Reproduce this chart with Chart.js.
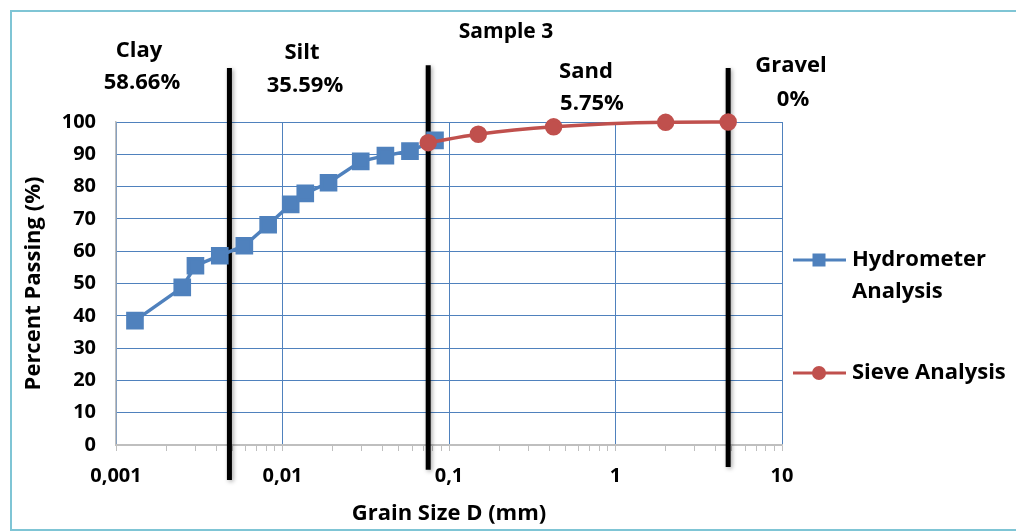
<!DOCTYPE html>
<html>
<head>
<meta charset="utf-8">
<script src="https://cdn.jsdelivr.net/npm/chart.js@4.4.1/dist/chart.umd.min.js"></script>
<style>
  html, body { margin: 0; padding: 0; background: #ffffff; }
  #wrap { width: 1016px; height: 532px; position: relative; }
  canvas { display: block; }
</style>
</head>
<body>
<div id="wrap"><canvas id="c" width="1016" height="532"></canvas></div>
<script>
// ---- data ----
const chartTitle = 'Sample 3';
const hydroSizes = [0.0013, 0.0025, 0.0030, 0.0042, 0.0059, 0.0082, 0.0112, 0.0137, 0.0189, 0.0295, 0.0415, 0.0583, 0.0824];
const hydroPassing = [38.5, 48.8, 55.5, 58.6, 61.7, 68.2, 74.5, 77.9, 81.2, 87.8, 89.6, 91.0, 94.3];
const sieveSizes = [0.075, 0.15, 0.425, 2.0, 4.75];
const sievePassing = [93.6, 96.2, 98.5, 99.9, 100];
const boundarySizes = [0.0048, 0.075, 4.75];
const zoneNames = ['Clay', 'Silt', 'Sand', 'Gravel'];
const zonePercents = ['58.66%', '35.59%', '5.75%', '0%'];
const seriesNames = [['Hydrometer', 'Analysis'], ['Sieve Analysis']];
const xTickValues = [0.001, 0.01, 0.1, 1, 10];
const xTickLabels = ['0,001', '0,01', '0,1', '1', '10'];
const yTicks = [0, 10, 20, 30, 40, 50, 60, 70, 80, 90, 100];
const xAxisTitle = 'Grain Size D (mm)';
const yAxisTitle = 'Percent Passing (%)';

// ---- styles ----
const FONT = '"Open Sans", Lato, sans-serif';
const BLUE = '#4f81bd';
const RED = '#c0504d';
const GRID = '#4f81bd';
const AXIS = '#bfbfbf';

const pts = (xs, ys) => xs.map((x, i) => ({ x: x, y: ys[i] }));
const isDecade = v => Math.abs(Math.log10(v) - Math.round(Math.log10(v))) < 1e-9;

// boundary line vertical spans (style: how far above/below the plot they reach)
const lineSpans = [[-10.8, 116.7], [-7.7, 117.6], [-6.8, 116.7]];
const boundaryDatasets = boundarySizes.map((s, i) => ({
  label: 'boundary' + i,
  data: [{ x: s, y: lineSpans[i][0] }, { x: s, y: lineSpans[i][1] }],
  borderColor: '#000000',
  borderWidth: 5,
  pointRadius: 0,
  borderCapStyle: 'butt',
  clip: false,
  order: 10,
  isBoundary: true
}));

const decorPlugin = {
  id: 'decor',
  beforeDraw(chart) {
    const ctx = chart.ctx;
    ctx.save();
    ctx.fillStyle = '#ffffff';
    ctx.fillRect(0, 0, chart.width, chart.height);
    ctx.strokeStyle = '#7fc5d5';
    ctx.lineWidth = 2;
    ctx.strokeRect(11, 11, 1030, 519);
    ctx.restore();
  },
  beforeDatasetDraw(chart, args) {
    const d = chart.data.datasets[args.index];
    if (d.isBoundary) {
      const ctx = chart.ctx;
      ctx.save();
      ctx.shadowColor = 'rgba(0,0,0,0.35)';
      ctx.shadowBlur = 4;
      ctx.shadowOffsetX = 1.5;
      ctx.shadowOffsetY = 1.5;
    }
  },
  afterDatasetDraw(chart, args) {
    const d = chart.data.datasets[args.index];
    if (d.isBoundary) chart.ctx.restore();
  },
  afterDraw(chart) {
    const ctx = chart.ctx;
    ctx.save();
    ctx.fillStyle = '#000000';
    ctx.textAlign = 'center';
    ctx.textBaseline = 'middle';
    ctx.font = 'bold 21px ' + FONT;
    ctx.fillText(chartTitle, 506, 32);
    ctx.font = 'bold 22px ' + FONT;
    const zonePos = [[139, 51, 142, 83], [302, 53, 305, 86], [586, 72, 592, 104], [791, 66, 793, 100]];
    zoneNames.forEach((n, i) => {
      const p = zonePos[i];
      ctx.fillText(n, p[0], p[1]);
      ctx.fillText(zonePercents[i], p[2], p[3]);
    });
    // legend
    const legendY = [260, 373];
    const ds = chart.data.datasets.filter(d => !d.isBoundary);
    ds.forEach((d, i) => {
      const y = legendY[i];
      ctx.strokeStyle = d.borderColor;
      ctx.lineWidth = 3;
      ctx.beginPath();
      ctx.moveTo(793, y);
      ctx.lineTo(846, y);
      ctx.stroke();
      ctx.fillStyle = d.pointBackgroundColor;
      if (d.pointStyle === 'rect') {
        ctx.fillRect(819 - 6.5, y - 6.5, 13, 13);
      } else {
        ctx.beginPath();
        ctx.arc(819, y, 7, 0, Math.PI * 2);
        ctx.fill();
      }
      ctx.fillStyle = '#000000';
      ctx.textAlign = 'left';
      ctx.font = 'bold 22px ' + FONT;
      seriesNames[i].forEach((t, k) => ctx.fillText(t, 852, y + k * 32));
    });
    ctx.restore();
  }
};

new Chart(document.getElementById('c'), {
  type: 'line',
  data: {
    datasets: [
      {
        label: seriesNames[0].join(' '),
        data: pts(hydroSizes, hydroPassing),
        borderColor: BLUE,
        backgroundColor: BLUE,
        pointBackgroundColor: BLUE,
        pointBorderColor: BLUE,
        pointStyle: 'rect',
        pointRadius: 10,
        borderWidth: 3.5,
        tension: 0,
        clip: false,
        order: 1
      },
      {
        label: seriesNames[1].join(' '),
        data: pts(sieveSizes, sievePassing),
        borderColor: RED,
        backgroundColor: RED,
        pointBackgroundColor: RED,
        pointBorderColor: RED,
        pointStyle: 'circle',
        pointRadius: 7,
        borderWidth: 3.5,
        cubicInterpolationMode: 'monotone',
        clip: false,
        order: 0
      },
      ...boundaryDatasets
    ]
  },
  options: {
    responsive: false,
    devicePixelRatio: 1,
    animation: false,
    layout: { padding: { top: 122, right: 234, left: 0, bottom: 0 } },
    plugins: {
      legend: { display: false },
      title: { display: false },
      tooltip: { enabled: false }
    },
    scales: {
      x: {
        type: 'logarithmic',
        min: xTickValues[0],
        max: xTickValues[xTickValues.length - 1],
        afterFit: s => { s.height = 87; },
        afterBuildTicks: s => {
          const t = [];
          for (let d = 0; d < xTickValues.length - 1; d++) {
            for (let k = 1; k <= 9; k++) t.push({ value: xTickValues[d] * k, major: k === 1 });
          }
          t.push({ value: xTickValues[xTickValues.length - 1], major: true });
          s.ticks = t;
        },
        grid: {
          color: c => (c.tick && isDecade(c.tick.value)) ? GRID : 'rgba(0,0,0,0)',
          tickColor: AXIS,
          tickLength: 6,
          lineWidth: 1
        },
        border: { color: AXIS, width: 1.5 },
        ticks: {
          autoSkip: false,
          maxRotation: 0,
          padding: 13,
          color: '#000000',
          font: { family: FONT, size: 20, weight: 'bold' },
          callback: v => {
            const i = xTickValues.findIndex(t => Math.abs(t - v) / t < 1e-9);
            return i >= 0 ? xTickLabels[i] : '';
          }
        },
        title: {
          display: true,
          text: xAxisTitle,
          color: '#000000',
          font: { family: FONT, size: 22, weight: 'bold' },
          padding: { top: 0, bottom: 5 }
        }
      },
      y: {
        type: 'linear',
        min: yTicks[0],
        max: yTicks[yTicks.length - 1],
        afterFit: s => { s.width = 116; },
        afterBuildTicks: s => { s.ticks = yTicks.map(v => ({ value: v })); },
        grid: {
          color: c => (c.tick && c.tick.value === 0) ? AXIS : GRID,
          drawTicks: false,
          lineWidth: 1
        },
        border: { color: AXIS, width: 1.5 },
        ticks: {
          padding: 20,
          color: '#000000',
          font: { family: FONT, size: 20, weight: 'bold' }
        },
        title: {
          display: true,
          text: yAxisTitle,
          color: '#000000',
          font: { family: FONT, size: 22, weight: 'bold' },
          padding: { top: 21, bottom: 0 }
        }
      }
    }
  },
  plugins: [decorPlugin]
});
</script>
</body>
</html>
